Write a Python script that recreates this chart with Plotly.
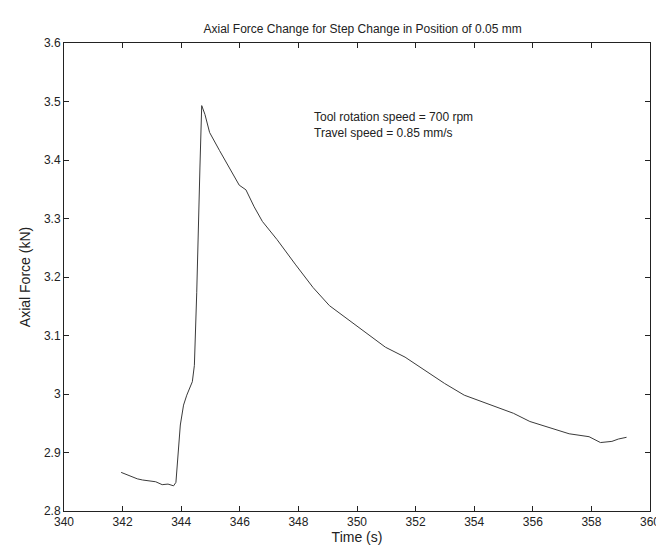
import plotly.graph_objects as go

time_s = [341.95, 342.15, 342.34, 342.5, 342.68, 342.9, 343.13, 343.35, 343.55, 343.74, 343.82,
          343.97, 344.08, 344.19, 344.38, 344.45, 344.53, 344.64, 344.70,
          344.81, 344.97, 345.31, 345.70, 345.98, 346.21, 346.38, 346.49,
          346.77, 347.27, 347.89, 348.50, 349.06, 349.68, 350.41, 350.97, 351.64,
          352.31, 352.99, 353.66, 354.22, 354.78, 355.34, 355.90, 356.57, 357.24,
          357.92, 358.31, 358.70, 358.92, 359.20]
force_kn = [2.866, 2.862, 2.857, 2.855, 2.853, 2.852, 2.850, 2.845, 2.846, 2.843, 2.849,
            2.947, 2.981, 2.998, 3.021, 3.049, 3.173, 3.388, 3.493,
            3.478, 3.447, 3.416, 3.383, 3.357, 3.349, 3.332, 3.320,
            3.295, 3.264, 3.222, 3.182, 3.151, 3.128, 3.100, 3.080, 3.063,
            3.041, 3.018, 2.998, 2.988, 2.978, 2.967, 2.953, 2.942, 2.932,
            2.927, 2.917, 2.919, 2.923, 2.926]

x_ticks = list(range(340, 361, 2))
y_ticks = [2.8, 2.9, 3.0, 3.1, 3.2, 3.3, 3.4, 3.5, 3.6]
y_tick_labels = ["2.8", "2.9", "3", "3.1", "3.2", "3.3", "3.4", "3.5", "3.6"]

fig = go.Figure()
fig.add_trace(go.Scatter(x=time_s, y=force_kn, mode="lines",
                         line=dict(color="#3a3a3a", width=1), showlegend=False))

font = dict(family="Liberation Sans, Arial, sans-serif", size=12, color="#222")

fig.update_layout(
    width=664, height=545,
    margin=dict(l=56, r=13, t=35, b=37),
    paper_bgcolor="white", plot_bgcolor="white",
    font=font,
    title=dict(text="Axial Force Change for Step Change in Position of 0.05 mm",
               x=0.534, xanchor="center", y=0.961, yanchor="middle",
               font=dict(family="Liberation Sans, Arial, sans-serif", size=12, color="#222")),
    xaxis=dict(range=[340, 360], tickvals=x_ticks, ticks="inside", ticklen=5,
               mirror="ticks", showline=True, linecolor="#222", linewidth=1,
               tickcolor="#222", showgrid=False, zeroline=False,
               title=dict(text="Time (s)", standoff=2)),
    yaxis=dict(range=[2.8, 3.6], tickvals=y_ticks, ticktext=y_tick_labels,
               ticks="inside", ticklen=5, mirror="ticks", showline=True,
               linecolor="#222", linewidth=1, tickcolor="#222",
               showgrid=False, zeroline=False,
               title=dict(text="Axial Force (kN)", standoff=10)),
    annotations=[
        dict(x=0.424, y=0.825, xref="paper", yref="paper", xanchor="left", yanchor="middle",
             align="left", showarrow=False,
             text="Tool rotation speed = 700 rpm<br>Travel speed = 0.85 mm/s",
             font=dict(family="Liberation Sans, Arial, sans-serif", size=12, color="#222")),
    ],
)

fig.write_html("out.html")
